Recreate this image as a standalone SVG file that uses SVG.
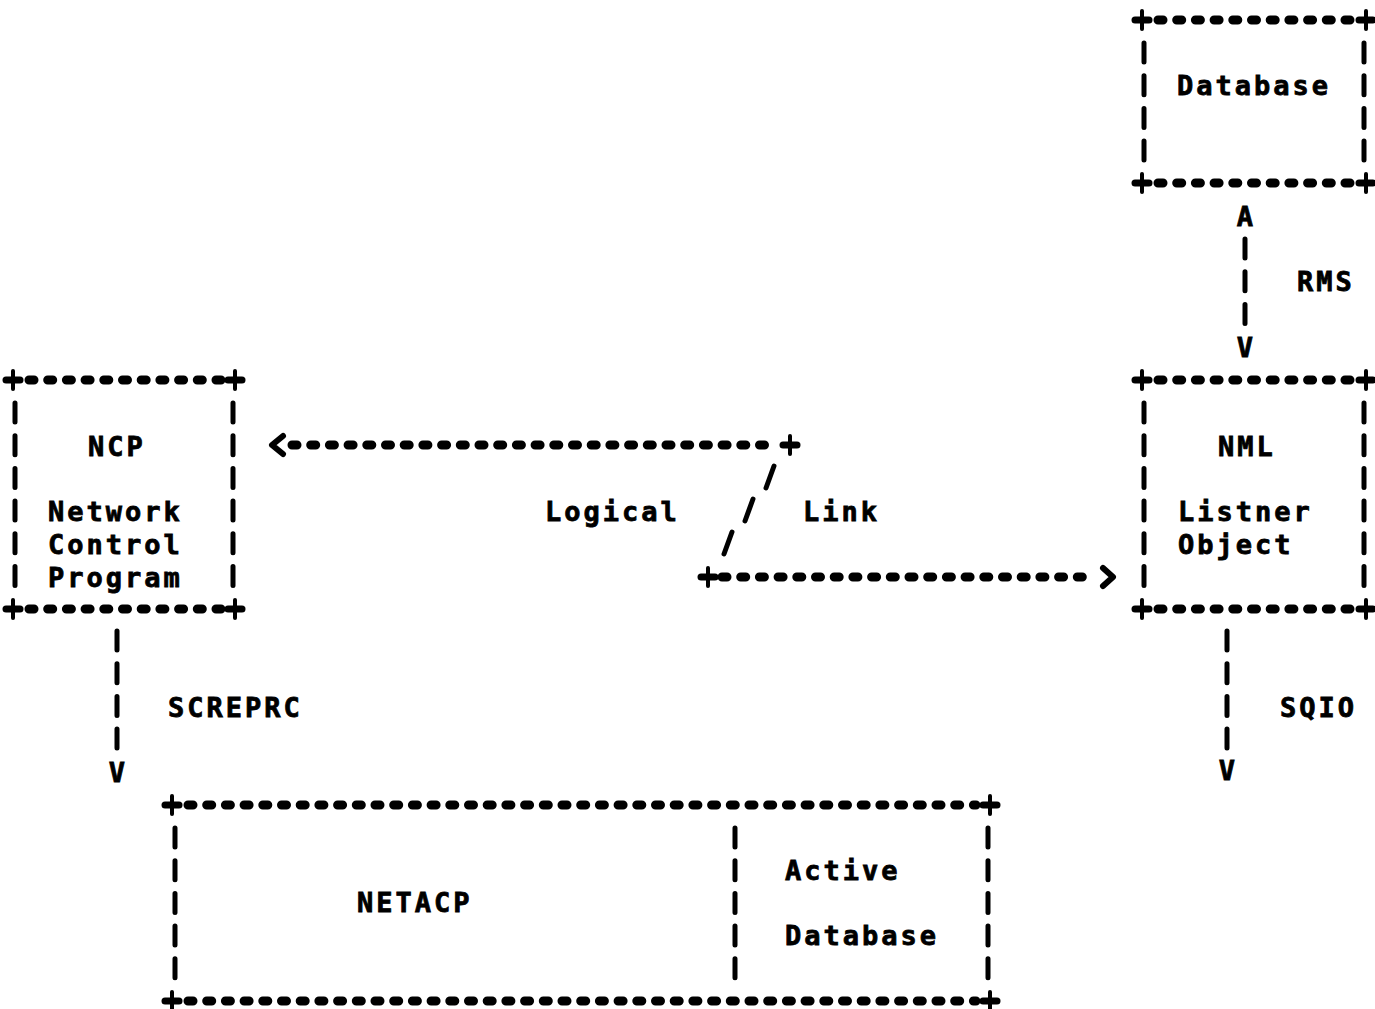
<svg xmlns="http://www.w3.org/2000/svg" width="1375" height="1009" viewBox="0 0 1375 1009">
<style>
.t{font-family:"DejaVu Sans Mono","Liberation Mono",monospace;font-weight:bold;font-size:27px;letter-spacing:3px;fill:#000;stroke:#000;stroke-width:0.8}
.a{text-anchor:middle;letter-spacing:0}
.h{stroke:#000;stroke-width:9;stroke-linecap:round;stroke-dasharray:5 13.7;fill:none}
.v{stroke:#000;stroke-width:5;stroke-linecap:round;stroke-dasharray:19 13.7;fill:none}
.s{stroke:#000;stroke-width:5;stroke-linecap:round;fill:none}
.c{stroke:#000;stroke-width:6;stroke-linecap:round;stroke-linejoin:round;fill:none}
</style>
<defs>
<g id="plus"><path d="M-7 0H7" stroke="#000" stroke-width="7" stroke-linecap="round"/><path d="M0 -9V9" stroke="#000" stroke-width="4" stroke-linecap="round"/></g>
</defs>
<rect width="1375" height="1009" fill="#fff"/>

<g id="database">
<path class="h" d="M1158 20H1352M1158 183H1352"/>
<path class="v" d="M1144 43V161M1364 43V161"/>
<use href="#plus" x="1142" y="20"/><use href="#plus" x="1366" y="20"/>
<use href="#plus" x="1142" y="183"/><use href="#plus" x="1366" y="183"/>
<text class="t" x="1177" y="95">Database</text>
</g>

<g id="nml">
<path class="h" d="M1158 380H1352M1158 609H1352"/>
<path class="v" d="M1144 403V587M1364 403V587"/>
<use href="#plus" x="1142" y="380"/><use href="#plus" x="1366" y="380"/>
<use href="#plus" x="1142" y="609"/><use href="#plus" x="1366" y="609"/>
<text class="t" x="1218" y="456">NML</text>
<text class="t" x="1178" y="521">Listner</text>
<text class="t" x="1178" y="554">Object</text>
</g>

<g id="ncp">
<path class="h" d="M29 380H221M29 609H221"/>
<path class="v" d="M15 403V587M233 403V587"/>
<use href="#plus" x="13" y="380"/><use href="#plus" x="235" y="380"/>
<use href="#plus" x="13" y="609"/><use href="#plus" x="235" y="609"/>
<text class="t" x="88" y="456">NCP</text>
<text class="t" x="48" y="521">Network</text>
<text class="t" x="48" y="554">Control</text>
<text class="t" x="48" y="587">Program</text>
</g>

<g id="netacp">
<path class="h" d="M188 805H976M188 1001H976"/>
<path class="v" d="M175 828V979M988 828V979M735 828V979"/>
<use href="#plus" x="172" y="805"/><use href="#plus" x="990" y="805"/>
<use href="#plus" x="172" y="1001"/><use href="#plus" x="990" y="1001"/>
<text class="t" x="357" y="912">NETACP</text>
<text class="t" x="785" y="880">Active</text>
<text class="t" x="785" y="945">Database</text>
</g>

<g id="connectors">
<g id="rms">
<text class="t a" x="1245" y="226">A</text>
<path class="v" d="M1245 239V324"/>
<text class="t a" x="1245" y="357">V</text>
<text class="t" x="1297" y="291">RMS</text>
</g>
<g id="logical-link">
<path class="c" d="M283 436L272 445L283 454"/>
<path class="h" d="M292 445H778"/>
<use href="#plus" x="790" y="445"/>
<path class="s" d="M774 466L766 488M753 499L745 521M732 532L724 554"/>
<use href="#plus" x="708" y="577"/>
<path class="h" d="M722 577H1092"/>
<path class="c" d="M1103 568L1113 577L1103 586"/>
<text class="t" x="545" y="521">Logical</text>
<text class="t" x="803" y="521">Link</text>
</g>
<g id="screprc">
<path class="v" d="M117 631V749"/>
<text class="t a" x="117" y="782">V</text>
<text class="t" x="168" y="717">SCREPRC</text>
</g>
<g id="sqio">
<path class="v" d="M1227 631V749"/>
<text class="t a" x="1227" y="780">V</text>
<text class="t" x="1280" y="717">SQIO</text>
</g>
</g>
</svg>
